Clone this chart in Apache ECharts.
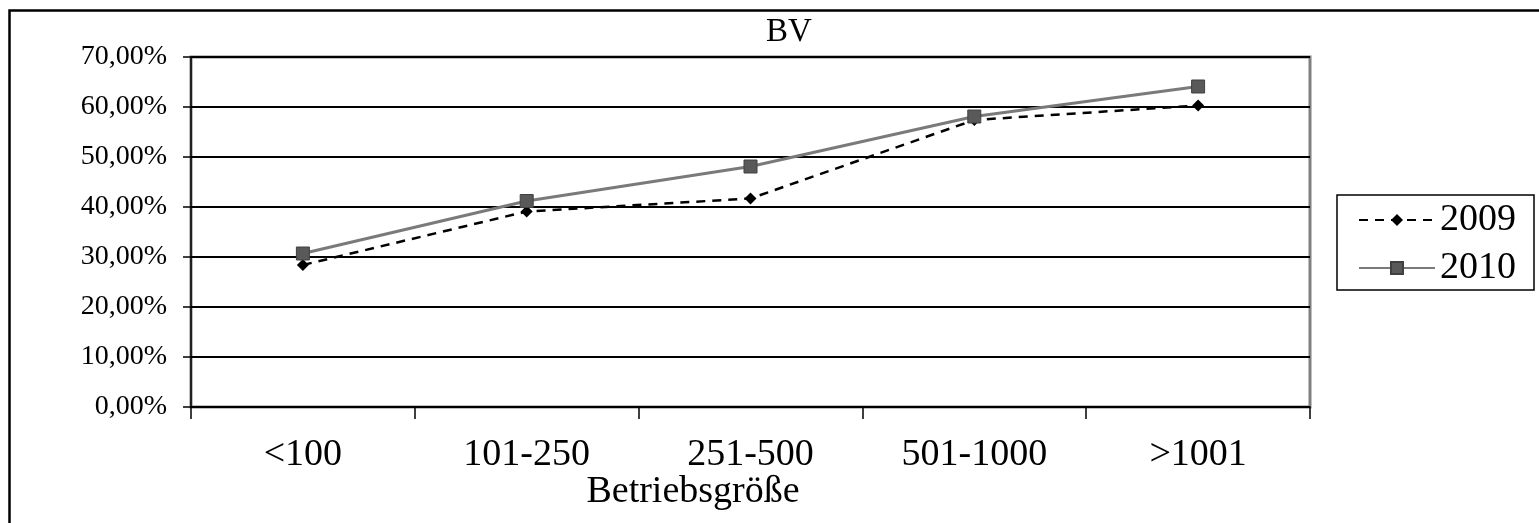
<!DOCTYPE html>
<html>
<head>
<meta charset="utf-8">
<script src="https://cdn.jsdelivr.net/npm/echarts@6/dist/echarts.min.js"></script>
<style>
html,body{margin:0;padding:0;background:#fff;}
#chart{width:1539px;height:523px;}
</style>
</head>
<body>
<div id="chart"></div>
<script>
const categories = ['<100', '101-250', '251-500', '501-1000', '>1001'];
const values2009 = [0.284, 0.391, 0.417, 0.574, 0.603];
const values2010 = [0.307, 0.412, 0.481, 0.581, 0.641];
const seriesNames = ['2009', '2010'];
const titleText = 'BV';
const xAxisTitle = 'Betriebsgröße';

const serif = '"Liberation Serif", "Times New Roman", serif';
const chart = echarts.init(document.getElementById('chart'), null, {renderer: 'canvas'});

chart.setOption({
  backgroundColor: '#ffffff',
  animation: false,
  grid: {
    left: 191, top: 57, width: 1119, height: 350,
    show: true, borderColor: '#808080', borderWidth: 3, backgroundColor: 'transparent'
  },
  legend: {
    orient: 'vertical',
    left: 1358, top: 200,
    itemWidth: 76, itemHeight: 15, itemGap: 8,
    padding: 0,
    textStyle: {fontFamily: serif, fontSize: 38, color: '#000', lineHeight: 40},
    data: seriesNames
  },
  xAxis: {
    type: 'category',
    data: categories,
    boundaryGap: true,
    axisLine: {show: true, lineStyle: {color: '#000', width: 1.5}},
    axisTick: {show: true, length: 12, lineStyle: {color: '#000', width: 1.5}},
    axisLabel: {fontFamily: serif, fontSize: 38, color: '#000', margin: 29}
  },
  yAxis: {
    type: 'value',
    min: 0, max: 0.7, interval: 0.1,
    axisLine: {show: true, lineStyle: {color: '#000', width: 1.5}},
    axisTick: {show: true, length: 8, lineStyle: {color: '#000', width: 1.5}},
    splitLine: {show: true, lineStyle: {color: '#000', width: 2}},
    axisLabel: {
      fontFamily: serif, fontSize: 28, color: '#000', margin: 24,
      formatter: v => (v * 100).toFixed(2).replace('.', ',') + '%'
    }
  },
  series: [
    {
      name: seriesNames[0], type: 'line', data: values2009,
      symbol: 'diamond', symbolSize: 12,
      lineStyle: {color: '#000', width: 2.5, type: [9, 7]},
      itemStyle: {color: '#000'},
      z: 2
    },
    {
      name: seriesNames[1], type: 'line', data: values2010,
      symbol: 'rect', symbolSize: 13,
      lineStyle: {color: '#7a7a7a', width: 3},
      itemStyle: {color: '#595959', borderColor: '#404040', borderWidth: 1},
      z: 3
    }
  ],
  graphic: [
    {type: 'rect', shape: {x: 9.5, y: 10.5, width: 1700, height: 700},
     style: {fill: 'none', stroke: '#000', lineWidth: 2.5}, silent: true},
    {type: 'rect', shape: {x: 1337, y: 195, width: 197, height: 95},
     style: {fill: 'none', stroke: '#000', lineWidth: 1.5}, silent: true, z: -1},
    {type: 'text', position: [789, 32],
     style: {text: titleText, font: '33px ' + serif, fill: '#000', textAlign: 'center', textVerticalAlign: 'middle'}},
    {type: 'text', position: [693, 492],
     style: {text: xAxisTitle, font: '38px ' + serif, fill: '#000', textAlign: 'center', textVerticalAlign: 'middle'}}
  ]
});
</script>
</body>
</html>
